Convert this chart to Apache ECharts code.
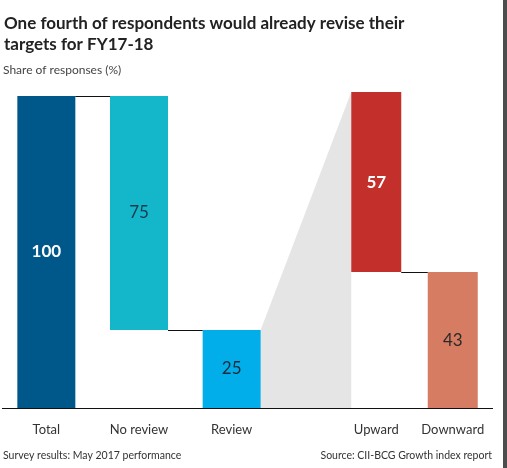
<!DOCTYPE html>
<html>
<head>
<meta charset="utf-8">
<style>
  html, body { margin: 0; padding: 0; background: #fff; }
  #chart { width: 507px; height: 468px; }
</style>
<script src="https://cdn.jsdelivr.net/npm/echarts@6/dist/echarts.min.js"></script>
</head>
<body>
<div id="chart"></div>
<script>
// left waterfall: total split into no review / review
const leftCategories = ['Total', 'No review', 'Review']
const leftValues = [100, 75, 25]
const leftBase = [0, 25, 0]

// right waterfall: review split into upward / downward
const rightCategories = ['Upward', 'Downward']
const rightValues = [57, 43]
const rightBase = [43, 0]

const leftColors = ['#00588a', '#14b6c9', '#02aeea']
const leftLabelColors = ['#ffffff', '#173a4f', '#1a2a3a']
const rightColors = ['#c3302c', '#d57c63']
const rightLabelColors = ['#ffffff', '#2a2a2a']

const FONT = 'Lato, "Open Sans", sans-serif'
const LEFT_BAR = 58
const RIGHT_BAR = 50

const chart = echarts.init(document.getElementById('chart'))

const makeItems = (values, colors, labelColors) =>
  values.map((v, i) => ({
    value: v,
    itemStyle: { color: colors[i] },
    label: { color: labelColors[i], fontWeight: i === 0 ? 'bold' : 'normal' }
  }))

const axisX = (cats, gridIndex) => ({
  type: 'category',
  gridIndex,
  data: cats,
  axisLine: { show: false },
  axisTick: { show: false },
  axisLabel: { interval: 0, margin: 15, fontSize: 13, color: '#333', fontFamily: FONT }
})

const axisY = (gridIndex) => ({
  type: 'value',
  gridIndex,
  min: 0,
  max: 100,
  show: false,
  splitLine: { show: false }
})

const footStyle = { fontSize: 10.5, fontWeight: 'normal', color: '#333', fontFamily: FONT }

const option = {
  animation: false,
  backgroundColor: '#fff',
  textStyle: { fontFamily: FONT },
  title: [
    {
      text: 'One fourth of respondents would already revise their\ntargets for FY17-18',
      left: 4,
      top: 13,
      padding: 0,
      textStyle: { fontSize: 17, fontWeight: 'bold', color: '#222', lineHeight: 21, fontFamily: FONT }
    },
    {
      text: 'Share of responses (%)',
      left: 3,
      top: 64,
      padding: 0,
      textStyle: { fontSize: 12, fontWeight: 'normal', color: '#444', fontFamily: FONT }
    },
    { text: 'Survey results: May 2017 performance', left: 3, top: 450, padding: 0, textStyle: footStyle },
    { text: 'Source: CII-BCG Growth index report', right: 15, top: 450, padding: 0, textStyle: footStyle }
  ],
  grid: [
    { left: 0, top: 96, width: 278, bottom: 60 },
    { left: 338, top: 92, width: 153, bottom: 60 }
  ],
  xAxis: [axisX(leftCategories, 0), axisX(rightCategories, 1)],
  yAxis: [axisY(0), axisY(1)],
  series: [
    {
      type: 'bar', stack: 'left', xAxisIndex: 0, yAxisIndex: 0,
      barWidth: LEFT_BAR, silent: true,
      itemStyle: { color: 'transparent' },
      data: leftBase
    },
    {
      type: 'bar', stack: 'left', xAxisIndex: 0, yAxisIndex: 0,
      barWidth: LEFT_BAR,
      label: { show: true, position: 'inside', fontSize: 17, fontFamily: FONT },
      data: makeItems(leftValues, leftColors, leftLabelColors)
    },
    {
      type: 'bar', stack: 'right', xAxisIndex: 1, yAxisIndex: 1,
      barWidth: RIGHT_BAR, silent: true,
      itemStyle: { color: 'transparent' },
      data: rightBase
    },
    {
      type: 'bar', stack: 'right', xAxisIndex: 1, yAxisIndex: 1,
      barWidth: RIGHT_BAR,
      label: { show: true, position: 'inside', fontSize: 17, fontFamily: FONT },
      data: makeItems(rightValues, rightColors, rightLabelColors)
    }
  ]
}

chart.setOption(option)

// connectors, gray wedge and baseline from the axes' own pixel mapping
const L = { xAxisIndex: 0, yAxisIndex: 0 }
const R = { xAxisIndex: 1, yAxisIndex: 1 }
const px = (finder, cat, val) => chart.convertToPixel(finder, [cat, val])

const totalTop = px(L, leftCategories[0], leftValues[0])
const noRevTop = px(L, leftCategories[1], leftBase[1] + leftValues[1])
const noRevBottom = px(L, leftCategories[1], leftBase[1])
const reviewTop = px(L, leftCategories[2], leftValues[2])
const reviewZero = px(L, leftCategories[2], 0)
const upTop = px(R, rightCategories[0], rightBase[0] + rightValues[0])
const upBottom = px(R, rightCategories[0], rightBase[0])
const upZero = px(R, rightCategories[0], 0)
const downTop = px(R, rightCategories[1], rightValues[1])

const hl = LEFT_BAR / 2
const hr = RIGHT_BAR / 2
// snap to the pixel grid so 1px lines stay crisp
const crisp = (y) => Math.round(y) - 0.5
const connector = (x1, x2, y) => ({
  type: 'line',
  z: 10,
  shape: { x1, y1: crisp(y), x2, y2: crisp(y) },
  style: { stroke: '#111', lineWidth: 1 }
})

chart.setOption({
  graphic: [
    {
      type: 'polygon',
      z: -1,
      shape: {
        points: [
          [reviewTop[0] + hl, reviewTop[1]],
          [upTop[0] - hr, upTop[1]],
          [upZero[0] - hr, upZero[1]],
          [reviewZero[0] + hl, reviewZero[1]]
        ]
      },
      style: { fill: '#e5e5e5' }
    },
    connector(totalTop[0] + hl, noRevTop[0] - hl, totalTop[1] + 1),
    connector(noRevBottom[0] + hl, reviewTop[0] - hl, noRevBottom[1] + 1),
    connector(upBottom[0] + hr, downTop[0] - hr, upBottom[1] + 1),
    connector(2, 493, reviewZero[1] + 1),
    {
      type: 'rect',
      right: 0,
      top: 0,
      shape: { width: 4, height: 468 },
      style: { fill: '#4d4d4d' }
    }
  ]
})
</script>
</body>
</html>
